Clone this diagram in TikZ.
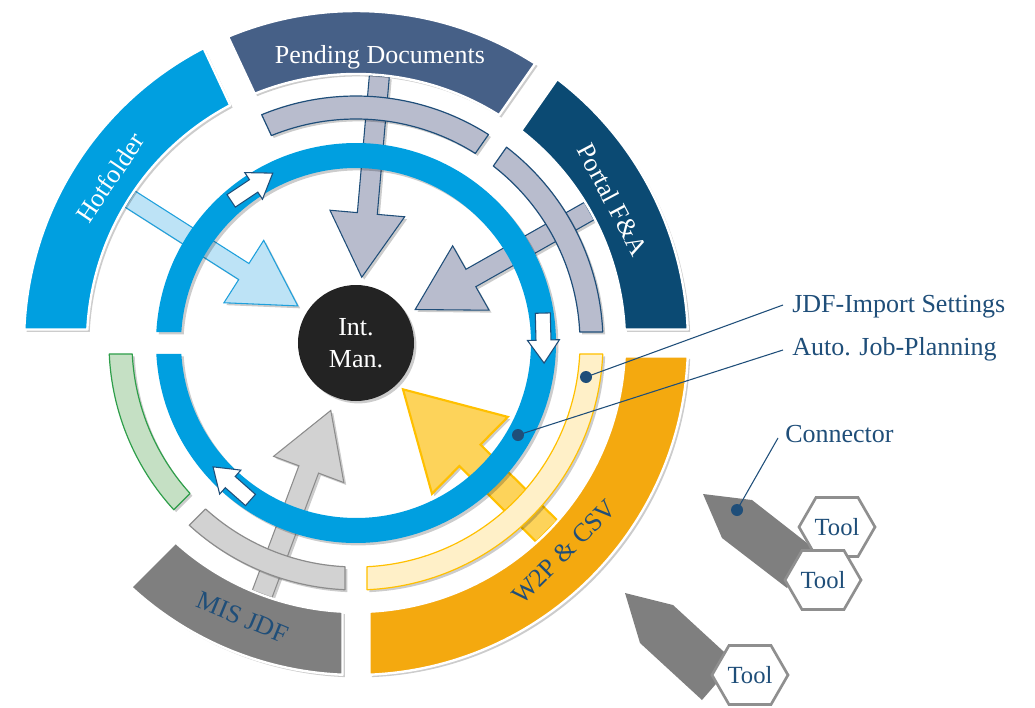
\documentclass[tikz,border=0pt]{standalone}
\usepackage{fontspec}
\setmainfont{Liberation Serif}
\usetikzlibrary{shadows}
\definecolor{cHot}{HTML}{009FE0}
\definecolor{cPend}{HTML}{466087}
\definecolor{cPortal}{HTML}{0B4A73}
\definecolor{cWtwo}{HTML}{F4A90F}
\definecolor{cMIS}{HTML}{7F7F7F}
\definecolor{cSlate}{HTML}{B8BCCD}
\definecolor{cNavy}{HTML}{1F4E79}
\definecolor{cLYel}{HTML}{FFF0C8}
\definecolor{cYelLine}{HTML}{FFC000}
\definecolor{cLGrey}{HTML}{D2D2D2}
\definecolor{cGreyLine}{HTML}{8C8C8C}
\definecolor{cLGreen}{HTML}{C5E0C4}
\definecolor{cGreenLine}{HTML}{2E9E4A}
\definecolor{cLBlue}{HTML}{BDE3F6}
\definecolor{cLBlueLine}{HTML}{1EA0DC}
\definecolor{cYelArrow}{HTML}{FDD35A}
\definecolor{cCore}{HTML}{232323}
\definecolor{cPencil}{HTML}{7F7F7F}
\definecolor{cHexLine}{HTML}{8F8F8F}

% annular sector with constant-width gaps: [style]{a1}{a2}{rin}{rout}{halfgap}
\newcommand{\annsec}[6][]{%
  \pgfmathsetmacro{\myAoS}{#2+asin(#6/#5)}%
  \pgfmathsetmacro{\myAoE}{#3-asin(#6/#5)}%
  \pgfmathsetmacro{\myAiS}{#2+asin(#6/#4)}%
  \pgfmathsetmacro{\myAiE}{#3-asin(#6/#4)}%
  \path[#1] (\myAoS:#5) arc[start angle=\myAoS, end angle=\myAoE, radius=#5]
    -- (\myAiE:#4) arc[start angle=\myAiE, end angle=\myAiS, radius=#4] -- cycle;
}
% radial block arrow: [style]{angle}{r start}{r tip}{shaft half}{head half}{head length}
\newcommand{\bigarrow}[7][]{%
  \pgfmathsetmacro{\myBase}{#4+#7}%
  \path[#1, rotate=#2] (#3,#5) -- (\myBase,#5) -- (\myBase,#6) -- (#4,0)
    -- (\myBase,-#6) -- (\myBase,-#5) -- (#3,-#5) -- cycle;
}
% small white clockwise arrow on the ring
\newcommand{\ringarrow}[1]{%
  \path[ringarr, rotate=#1] (180,25) -- (180,-2) -- (171.5,-2) -- (187.5,-25)
    -- (203.5,-2) -- (195,-2) -- (195,25) -- cycle;
}
% hexagon with a label
\newcommand{\toolhex}[3]{%
  \draw[hexline] (#2,#3) ++(-38,0) -- ++(17,29.5) -- ++(42,0) -- ++(17,-29.5)
    -- ++(-17,-29.5) -- ++(-42,0) -- cycle;
  \node[lbl, font=\fontsize{18.5}{22}\selectfont] (#1) at (#2,#3) {Tool};
}

\begin{document}
\begin{tikzpicture}[x=0.75pt, y=0.75pt,
  font=\fontsize{19.5}{24}\selectfont,
  shad/.style={drop shadow={shadow xshift=1.8pt, shadow yshift=-1.8pt, opacity=0.2, fill=black}},
  seg/.style={shad, draw=white, line width=1.8pt, line join=round},
  mid/.style={shad, line width=0.9pt, line join=round},
  ring/.style={shad, fill=cHot},
  arrbase/.style={shad, line width=0.8pt, line join=miter},
  arrHot/.style={arrbase, fill=cLBlue, draw=cLBlueLine},
  arrSlate/.style={arrbase, fill=cSlate, draw=cNavy},
  arrYel/.style={arrbase, fill=cYelArrow, draw=cYelLine, line width=1.6pt},
  arrGrey/.style={arrbase, fill=cLGrey, draw=cGreyLine},
  ringarr/.style={fill=white, draw=cNavy, line width=0.8pt, line join=miter},
  core/.style={circle, shad, fill=cCore, minimum size=87pt, inner sep=0pt, text=white, align=center},
  seglabel/.style={text=white, inner sep=0pt},
  seglabeldark/.style={text=cNavy, inner sep=0pt},
  lbl/.style={text=cNavy, inner sep=0pt},
  dot/.style={circle, fill=cNavy, minimum size=9pt, inner sep=0pt},
  leader/.style={draw=cNavy, line width=0.8pt},
  pencil/.style={fill=cPencil},
  hexline/.style={draw=cHexLine, fill=white, line width=2pt, line join=miter}]
\useasboundingbox (-356,-364) rectangle (679,343);

% big arrows (under everything)
\bigarrow[arrHot]{147.5}{268}{69}{9.5}{37}{64}
\bigarrow[arrSlate]{85}{268}{66}{10}{37.5}{64}
\bigarrow[arrSlate]{29.5}{268}{68}{10}{37}{64}
\bigarrow[arrYel]{-44.6}{268}{66}{15}{54}{94}
\bigarrow[arrGrey]{249.5}{268}{72}{10.5}{37.5}{63}

% outer segments
\annsec[seg, fill=cHot]{115}{180}{269}{332}{13.5}
\annsec[seg, fill=cPend]{55}{115}{269}{332}{13.5}
\annsec[seg, fill=cPortal]{0}{55}{269}{332}{13.5}
\annsec[seg, fill=cWtwo]{-90}{0}{269}{332}{13.5}
\annsec[seg, fill=cMIS]{225}{270}{269}{332}{13.5}

% middle arcs
\annsec[mid, fill=cSlate, draw=cNavy]{55}{115}{224}{247}{11}
\annsec[mid, fill=cSlate, draw=cNavy]{0}{55}{224}{247}{11}
\annsec[mid, fill=cLYel, draw=cYelLine]{-90}{0}{224}{247}{11}
\annsec[mid, fill=cLGrey, draw=cGreyLine]{225}{270}{224}{247}{11}
\annsec[mid, fill=cLGreen, draw=cGreenLine]{180}{225}{224}{247}{11}

% blue ring
\annsec[ring]{-180}{180}{175}{200}{11}
\ringarrow{123.7}
\ringarrow{1.5}
\ringarrow{228.5}

% core
\node[core] (core) at (0,0) {Int.\\Man.};

% segment labels
\node[seglabel, rotate=56] (hot) at (146.1:296.5) {Hotfolder};
\node[seglabel, anchor=base] (pend) at (24,279) {Pending Documents};
\node[seglabel, rotate=-62] (portal) at (29.2:294) {Portal F\&A};
\node[seglabeldark, rotate=45] (wtwo) at (-45.1:295) {W2P \& CSV};
\node[seglabeldark, rotate=-22.4] (mis) at (247.5:297) {MIS JDF};

% callout labels
\node[lbl, anchor=base west] (jdf) at (436,31) {JDF-Import Settings};
\node[lbl, anchor=base west] (auto) at (436,-12) {Auto. Job-Planning};
\node[lbl, anchor=base west] (conn) at (429,-99) {Connector};

% pencils and tools
\fill[pencil] (347,-151) -- (396,-157) -- (460,-207) -- (431,-245) -- (366,-195) -- cycle;
\toolhex{toolA}{481}{-184}
\toolhex{toolB}{467}{-237}
\fill[pencil] (269,-250) -- (317,-262) -- (379,-319) -- (346,-357) -- (284,-300) -- cycle;
\toolhex{toolC}{394}{-332}

% dots and leaders
\node[dot] (jdfdot) at (230,-34) {};
\node[dot] (autodot) at (162,-92) {};
\node[dot] (conndot) at (381,-167) {};
\coordinate (jdfend) at (427,38);
\coordinate (autoend) at (427,-7);
\coordinate (connend) at (422,-95);
\draw[leader] (jdfdot.center) -- (jdfend);
\draw[leader] (autodot.center) -- (autoend);
\draw[leader] (conndot.center) -- (connend);
\end{tikzpicture}
\end{document}
